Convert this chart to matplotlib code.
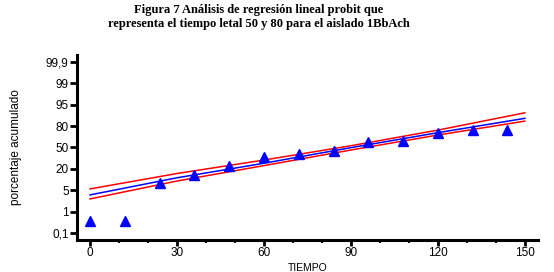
import matplotlib
matplotlib.use("Agg")
import matplotlib.pyplot as plt
from matplotlib.ticker import MultipleLocator

# y axis: evenly spaced probit-style labels, stored as index positions
ytick_labels = ["0,1", "1", "5", "20", "50", "80", "95", "99", "99,9"]

# observed points (time, position on label scale)
tiempo = [0, 12, 24, 36, 48, 60, 72, 84, 96, 108, 120, 132, 144]
obs = [0.56, 0.56, 2.34, 2.71, 3.13, 3.55, 3.69, 3.83, 4.25, 4.30, 4.67, 4.81, 4.81]

# fitted line and confidence limits
fit_x = [0, 30, 60, 90, 120, 150]
fit_y = [1.78, 2.58, 3.26, 3.99, 4.69, 5.36]
upper = [2.06, 2.78, 3.41, 4.08, 4.81, 5.62]
lower = [1.59, 2.43, 3.15, 3.88, 4.58, 5.23]

plt.rcParams["font.family"] = ["Liberation Sans", "DejaVu Sans"]

fig = plt.figure(figsize=(5.54, 2.72), dpi=100)
ax = fig.add_axes([0.139, 0.1176, 0.832, 0.680])

ax.plot(fit_x, upper, color="red", lw=1.1)
ax.plot(fit_x, lower, color="red", lw=1.1)
ax.plot(fit_x, fit_y, color="blue", lw=1.1)
ax.plot(tiempo, obs, linestyle="none", marker="^", color="blue", markersize=6.5)

ax.set_xlim(-4.5, 154.5)
ax.set_ylim(-0.33, 8.32)
ax.set_yticks(range(len(ytick_labels)))
ax.set_yticklabels(ytick_labels)
ax.xaxis.set_major_locator(MultipleLocator(30))
ax.xaxis.set_minor_locator(MultipleLocator(10))

for s in ["top", "right"]:
    ax.spines[s].set_visible(False)
for s in ["left", "bottom"]:
    ax.spines[s].set_linewidth(2.2)

ax.tick_params(axis="y", direction="out", length=5, width=2, labelsize=8.5, pad=1)
ax.tick_params(axis="x", which="major", direction="out", length=4, width=2, labelsize=8.5, pad=1)
ax.tick_params(axis="x", which="minor", direction="out", length=2, width=1.5)

ax.set_ylabel("porcentaje acumulado", fontsize=8.5, labelpad=17)
ax.set_xlabel("TIEMPO", fontsize=7.5, labelpad=3)

fig.text(0.467, 0.985, "Figura 7 Análisis de regresión lineal probit que\n"
         "representa el tiempo letal 50 y 80 para el aislado 1BbAch",
         ha="center", va="top", fontsize=9, fontweight="bold",
         family="Liberation Serif", linespacing=1.2)

fig.savefig("out.png", dpi=100)
